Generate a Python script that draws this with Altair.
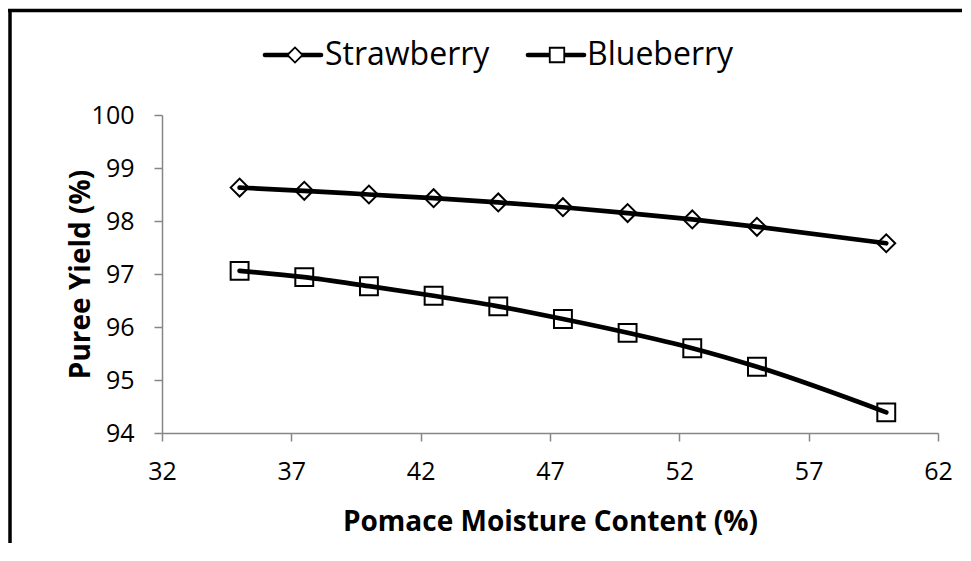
import altair as alt
import pandas as pd

# ---- data ----
moisture = [35, 37.5, 40, 42.5, 45, 47.5, 50, 52.5, 55, 60]
strawberry = [98.63, 98.57, 98.50, 98.43, 98.35, 98.26, 98.15, 98.03, 97.89, 97.58]
blueberry = [97.06, 96.94, 96.77, 96.59, 96.39, 96.15, 95.89, 95.60, 95.25, 94.39]
series_names = ["Strawberry", "Blueberry"]
x_ticks = [32, 37, 42, 47, 52, 57, 62]
y_ticks = [94, 95, 96, 97, 98, 99, 100]

rows = []
for name, vals in zip(series_names, [strawberry, blueberry]):
    for m, v in zip(moisture, vals):
        rows.append({"series": name, "moisture": m, "yield": v})
df = pd.DataFrame(rows)

FONT = "Open Sans"
W, H = 776, 318
LEFT, TOP = 162, 115  # page position of plot origin

shape_scale = alt.Scale(domain=series_names, range=["diamond", "square"])
size_scale = alt.Scale(domain=series_names, range=[320, 320])

x_enc = alt.X(
    "moisture:Q",
    scale=alt.Scale(domain=[32, 62], nice=False, zero=False),
    axis=alt.Axis(
        values=x_ticks, title="Pomace Moisture Content (%)",
        labelPadding=18, labelFlush=False, titleX=388, titleY=89,
        titleBaseline="middle", titleAlign="center",
    ),
)
y_enc = alt.Y(
    "yield:Q",
    scale=alt.Scale(domain=[94, 100], nice=False, zero=False),
    axis=alt.Axis(
        values=y_ticks, title="Puree Yield (%)", labelPadding=20,
        labelFlush=False,
        titleX=-81, titleY=159, titleAngle=270, titleBaseline="middle",
        titleAlign="center",
    ),
)

points = alt.Chart(df).mark_point(
    fill="white", fillOpacity=1, stroke="black", strokeWidth=2, opacity=1
).encode(
    x=x_enc, y=y_enc,
    shape=alt.Shape("series:N", scale=shape_scale, legend=None),
    size=alt.Size("series:N", scale=size_scale, legend=None),
)

lines = alt.Chart(df).mark_line(
    color="black", strokeWidth=4.7, interpolate="monotone", strokeCap="round"
).encode(x="moisture:Q", y="yield:Q", detail="series:N")

# ---- manual legend (line + marker + label) ----
legend_layers = []
leg_pos = {
    "Strawberry": dict(x1=265, x2=321, mx=295, tx=325, size=230),
    "Blueberry": dict(x1=528, x2=584, mx=557, tx=587, size=210),
}
LEG_Y = 55
for name in series_names:
    p = leg_pos[name]
    d = pd.DataFrame({"series": [name]})
    legend_layers.append(
        alt.Chart(d).mark_rule(color="black", strokeWidth=4.7, strokeCap="round").encode(
            x=alt.value(p["x1"] - LEFT), x2=alt.value(p["x2"] - LEFT), y=alt.value(LEG_Y - TOP)
        )
    )
    legend_layers.append(
        alt.Chart(d).mark_point(
            fill="white", fillOpacity=1, stroke="black", strokeWidth=1.8, opacity=1,
            shape="diamond" if name == "Strawberry" else "square", size=p["size"],
        ).encode(x=alt.value(p["mx"] - LEFT), y=alt.value(LEG_Y - TOP))
    )
    legend_layers.append(
        alt.Chart(d).mark_text(
            align="left", baseline="alphabetic", font=FONT, fontSize=32, color="black"
        ).encode(x=alt.value(p["tx"] - LEFT), y=alt.value(65 - TOP), text="series:N")
    )

# ---- outer frame (left and top edges) ----
frame_df = pd.DataFrame({"k": [0]})
frame_left = alt.Chart(frame_df).mark_rule(color="black", strokeWidth=3.5).encode(
    x=alt.value(10 - LEFT), y=alt.value(9 - TOP), y2=alt.value(600)
)
frame_top = alt.Chart(frame_df).mark_rule(color="black", strokeWidth=3.5).encode(
    x=alt.value(8 - LEFT), x2=alt.value(980 - LEFT), y=alt.value(10.5 - TOP)
)

chart = alt.layer(
    points, lines, *legend_layers, frame_left, frame_top
).properties(
    width=W, height=H,
    padding={"left": LEFT - 8, "top": TOP - 8, "right": 24, "bottom": 110},
    autosize=alt.AutoSizeParams(type="none"),
    background="white",
).configure_view(stroke=None).configure_axis(
    grid=False,
    domainColor="#868686", domainWidth=1.5,
    tickColor="#868686", tickWidth=1.5, tickSize=8,
    labelFont=FONT, labelFontSize=25, labelColor="black",
    titleFont=FONT, titleFontSize=28, titleFontWeight="bold", titleColor="black",
)

chart.save("out.html", embed_options={"renderer": "svg", "actions": False})
